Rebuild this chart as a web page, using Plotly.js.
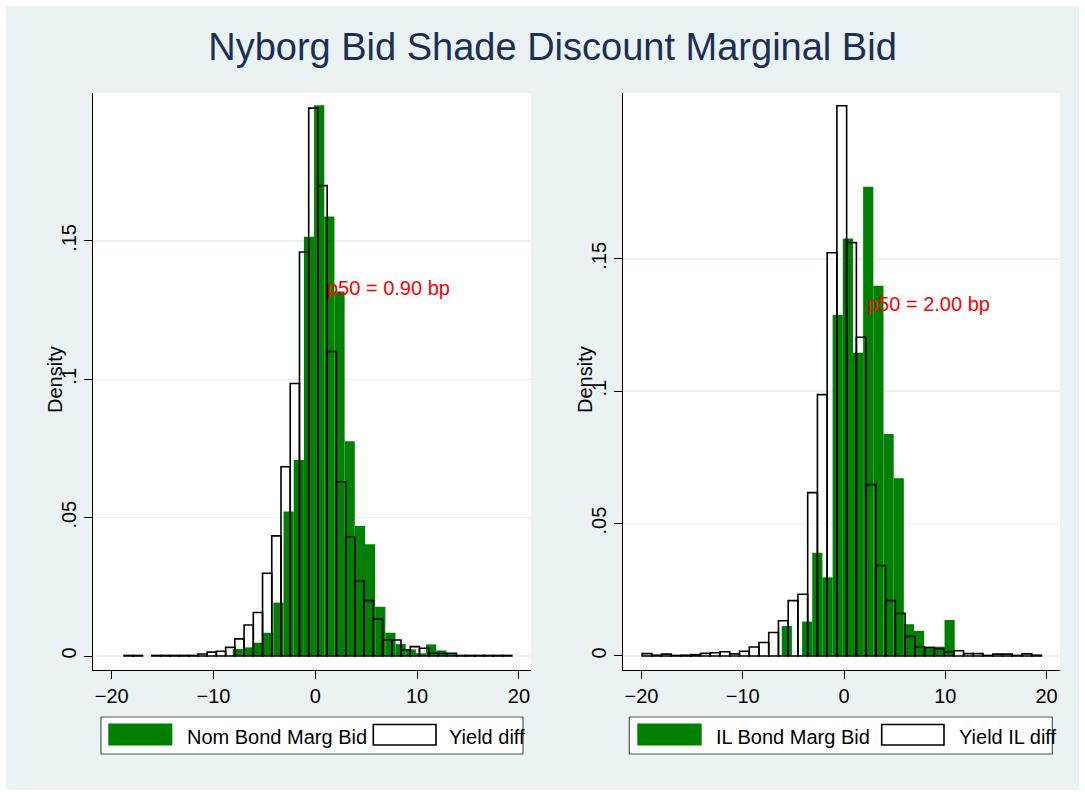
<!DOCTYPE html>
<html>
<head>
<meta charset="utf-8">
<script src="https://cdn.plot.ly/plotly-3.0.1.min.js"></script>
<style>
  body { margin: 0; background: #ffffff; }
  #chart { position: absolute; left: 6px; top: 6px; width: 1073px; height: 784px; }
</style>
</head>
<body>
<div id="chart"></div>
<script>
// ── Datos (densidades) ──────────────────────────────────────────────────────
// Panel izquierdo: bonos nominales
const nomBidStart = -7.62, nomBidStep = 1.0;
const nomBidDensity = [0.0025, 0.0031, 0.0048, 0.0084, 0.0193, 0.0522, 0.0708, 0.1515,
  0.199, 0.1588, 0.1317, 0.0776, 0.047, 0.0404, 0.0178, 0.0084, 0.0043, 0.0024,
  0.001, 0.0042, 0.002, 0.0008];

const yieldDiffStart = -18.336, yieldDiffStep = 0.907;
const yieldDiffDensity = [0.0002, 0.0002, null, 0.0002, 0.0002, 0.0002, 0.0002, 0.0002,
  0.0007, 0.0014, 0.0017, 0.0031, 0.0062, 0.0112, 0.0157, 0.0299, 0.0434, 0.0684,
  0.0985, 0.146, 0.198, 0.170, 0.110, 0.063, 0.0429, 0.0272, 0.020, 0.0134, 0.0058,
  0.0058, 0.0022, 0.0034, 0.0028, 0.0010, 0.0009, 0.0010, 0.0002, 0.0002, 0.0002,
  0.0002, 0.0002, 0.0002];

// Panel derecho: bonos indexados (IL)
const ilBidStart = -5.65, ilBidStep = 1.005;
const ilBidDensity = [0.0113, 0, 0.013, 0.039, 0.0297, 0.1288, 0.1577, 0.1145, 0.1772,
  0.1398, 0.0838, 0.0671, 0.012, 0.0095, 0.0035, 0.0035, 0.0136];

const yieldIlStart = -19.463, yieldIlStep = 0.962;
const yieldIlDensity = [0.0009, 0.0003, 0.0007, 0.0002, 0.0003, 0.0005, 0.0010, 0.0012,
  0.0016, 0.0008, 0.0018, 0.0034, 0.0051, 0.0089, 0.0133, 0.0209, 0.0233, 0.0617,
  0.0987, 0.1523, 0.2078, 0.1561, 0.1204, 0.0647, 0.0342, 0.0209, 0.0161, 0.0074,
  0.0035, 0.0032, 0.0028, 0.0016, 0.0020, 0.0009, 0.0009, 0.0002, 0.0007, 0.0007,
  0.0002, 0.0008, 0.0003];

const nomP50 = 0.90;
const ilP50 = 2.00;

const xTicks = [-20, -10, 0, 10, 20];
const yTicks = [0, 0.05, 0.1, 0.15];
const yTickText = ['0', '.05', '.1', '.15'];

const chartTitle = 'Nyborg Bid Shade Discount Marginal Bid';
const leftLegend = ['Nom Bond Marg Bid', 'Yield diff'];
const rightLegend = ['IL Bond Marg Bid', 'Yield IL diff'];

// ── Estilo ──────────────────────────────────────────────────────────────────
const C = {
  green: '#008000',
  bg:    '#eaf2f3',
  navy:  '#1a2f55',
  red:   '#ff0000',
  ink:   '#000000',
};
const FONT = 'Arial, "Liberation Sans", sans-serif';

// geometría del área de trazado (px dentro del div)
const M = { l: 87, r: 19, t: 87, b: 120 };
const W = 1073, H = 784;
const PW = W - M.l - M.r, PH = H - M.t - M.b;
// convertir px de página a fracción "paper"
const px = x => (x - 6 - M.l) / PW;
const py = y => (H - M.b - (y - 6)) / PH;

function histTrace(start, step, y, xa, ya, outline) {
  return {
    type: 'bar', x0: start, dx: step, y: y, width: step,
    xaxis: xa, yaxis: ya, hoverinfo: 'skip', showlegend: false,
    marker: outline
      ? { color: 'rgba(0,0,0,0)', line: { color: C.ink, width: 1.6 } }
      : { color: C.green, line: { width: 0 } },
  };
}

function xAxis(domain, range, anchor) {
  return {
    domain, range, anchor, tickvals: xTicks, ticks: 'outside', ticklen: 8,
    tickcolor: C.ink, showline: true, linecolor: C.ink, linewidth: 1,
    showgrid: false, zeroline: false, tickfont: { size: 20, color: C.ink },
  };
}

function yAxis(range, anchor) {
  return {
    domain: [0, 1], range, anchor, tickvals: yTicks, ticktext: yTickText,
    tickangle: -90, ticks: 'outside', ticklen: 8, tickcolor: C.ink,
    showline: true, linecolor: C.ink, linewidth: 1, showgrid: true,
    gridcolor: C.bg, gridwidth: 1.5, zeroline: false,
    tickfont: { size: 20, color: C.ink },
  };
}

// ── Leyendas (cajas dibujadas a mano, estilo Stata) ─────────────────────────
function legend(box, fillSw, lineSw, labels, txt) {
  const shapes = [
    { type: 'rect', xref: 'paper', yref: 'paper', x0: px(box[0]), x1: px(box[1]),
      y0: py(754), y1: py(717), fillcolor: '#ffffff', line: { color: '#555555', width: 1.2 }, layer: 'below' },
    { type: 'rect', xref: 'paper', yref: 'paper', x0: px(fillSw[0]), x1: px(fillSw[1]),
      y0: py(745.5), y1: py(723.5), fillcolor: C.green, line: { width: 0 } },
    { type: 'rect', xref: 'paper', yref: 'paper', x0: px(lineSw[0]), x1: px(lineSw[1]),
      y0: py(745), y1: py(724.5), fillcolor: '#ffffff', line: { color: C.ink, width: 1.6 } },
  ];
  const ann = labels.map((t, i) => ({
    xref: 'paper', yref: 'paper', x: px(txt[i]), y: py(736.5), text: t,
    xanchor: 'left', yanchor: 'middle', showarrow: false,
    font: { size: 20, color: C.ink },
  }));
  return { shapes, ann };
}

const legL = legend([101, 523], [108.3, 172.3], [373.3, 436], leftLegend, [184.5, 447]);
const legR = legend([629.3, 1052.3], [637.3, 701.7], [881.7, 944], rightLegend, [714, 957]);

const p50Label = v => 'p50 = ' + v.toFixed(2) + ' bp';

const data = [
  histTrace(nomBidStart, nomBidStep, nomBidDensity, 'x', 'y', false),
  histTrace(yieldDiffStart, yieldDiffStep, yieldDiffDensity, 'x', 'y', true),
  histTrace(ilBidStart, ilBidStep, ilBidDensity, 'x2', 'y2', false),
  histTrace(yieldIlStart, yieldIlStep, yieldIlDensity, 'x2', 'y2', true),
];

const layout = {
  width: W, height: H, margin: M,
  paper_bgcolor: C.bg, plot_bgcolor: '#ffffff',
  font: { family: FONT, size: 20, color: C.ink },
  barmode: 'overlay', showlegend: false, hovermode: false,
  title: { text: chartTitle, xref: 'container', yref: 'container',
           x: 546.5 / W, y: 1 - 40.5 / H, xanchor: 'center', yanchor: 'middle',
           font: { size: 38, color: C.navy } },
  xaxis:  xAxis([0, px(531)], [-21.84, 21.19], 'y'),
  yaxis:  yAxis([-0.00506, 0.20347], 'x'),
  xaxis2: xAxis([px(623), 1], [-21.83, 21.33], 'y2'),
  yaxis2: yAxis([-0.00529, 0.21262], 'x2'),
  shapes: legL.shapes.concat(legR.shapes),
  annotations: [
    { xref: 'x', yref: 'y', x: nomP50, y: 0.133, text: p50Label(nomP50),
      xanchor: 'left', yanchor: 'middle', xshift: 1, showarrow: false,
      font: { size: 20, color: C.red } },
    { xref: 'x2', yref: 'y2', x: ilP50, y: 0.133, text: p50Label(ilP50),
      xanchor: 'left', yanchor: 'middle', xshift: 1, showarrow: false,
      font: { size: 20, color: C.red } },
    { xref: 'paper', yref: 'paper', x: px(55), y: py(380), text: 'Density',
      textangle: -90, showarrow: false, xanchor: 'center', yanchor: 'middle',
      font: { size: 20, color: C.ink } },
    { xref: 'paper', yref: 'paper', x: px(585), y: py(380), text: 'Density',
      textangle: -90, showarrow: false, xanchor: 'center', yanchor: 'middle',
      font: { size: 20, color: C.ink } },
  ].concat(legL.ann, legR.ann),
};

Plotly.newPlot('chart', data, layout, { displayModeBar: false, staticPlot: true });
</script>
</body>
</html>
